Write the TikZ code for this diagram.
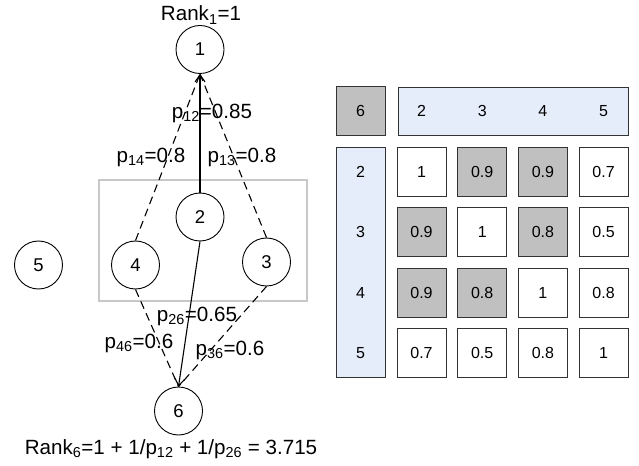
\documentclass[tikz,border=0pt]{standalone}
\usepackage{fontspec}
\setsansfont{Liberation Sans}
\usepackage{tikz}
\usetikzlibrary{arrows.meta,positioning}
\definecolor{colb}{RGB}{230,237,250}
\definecolor{colg}{RGB}{192,192,192}
\definecolor{colr}{RGB}{200,200,200}
\definecolor{cole}{RGB}{51,51,51}
\tikzstyle{page}=[draw, circle, minimum size=48bp, inner sep=0pt, line width=0.9bp, font=\sffamily\fontsize{18.5bp}{20bp}\selectfont]
\tikzstyle{lbl}=[inner sep=0pt, font=\sffamily\fontsize{20.6bp}{22bp}\selectfont]
\tikzstyle{cell}=[draw=cole, fill=white, minimum width=49bp, minimum height=49bp, inner sep=0pt, line width=0.8bp, font=\sffamily\fontsize{16bp}{17bp}\selectfont]
\tikzstyle{hicell}=[cell, fill=colg]
\tikzstyle{head}=[cell, fill=colb]
\tikzstyle{txt}=[inner sep=0pt, font=\sffamily\fontsize{16bp}{17bp}\selectfont]
\tikzstyle{solidedge}=[line width=1.1bp]
\tikzstyle{weakedge}=[line width=1.1bp, dash pattern=on 8bp off 5bp]

\begin{document}
\begin{tikzpicture}[x=1bp,y=-1bp,>={Straight Barb[length=7bp,width=10bp]}]
    \useasboundingbox (0,0) rectangle (639,466);
    % graph
    \draw [colr, line width=1.6bp] (99,180) rectangle (307,301);
    \node [page] (p1) at (200,49.5) {1};
    \node [page] (p2) at (200,217) {2};
    \node [page] (p3) at (266.5,262) {3};
    \node [page] (p4) at (135.5,265) {4};
    \node [page] (p5) at (38.5,265) {5};
    \node [page] (p6) at (178.5,411) {6};
    \path[->, solidedge]
    (p2.north) edge (p1.south)
    (p2.south) edge (p6.north);
    \path[weakedge]
    (p4.north) edge (p1.south)
    (p3.north) edge (p1.south)
    (p4.south) edge (p6.north)
    (p3.south) edge (p6.north);
    \node [lbl] (r1) at (201,15) {Rank\textsubscript{1}=1};
    \node [lbl] (l12) at (212,113) {p\textsubscript{12}=0.85};
    \node [lbl] (l14) at (151,157) {p\textsubscript{14}=0.8};
    \node [lbl] (l13) at (242,157) {p\textsubscript{13}=0.8};
    \node [lbl] (l26) at (197,316) {p\textsubscript{26}=0.65};
    \node [lbl] (l46) at (139,343) {p\textsubscript{46}=0.6};
    \node [lbl] (l36) at (230,350) {p\textsubscript{36}=0.6};
    \node [lbl] (r6) at (171,449) {Rank\textsubscript{6}=1 + 1/p\textsubscript{12} + 1/p\textsubscript{26} = 3.715};
    % matrix
    \node [hicell] (m0) at (360.5,111) {6};
    \node [head, minimum width=230bp, minimum height=48bp] (top) at (513,111) {};
    \node [head, minimum width=49bp, minimum height=230bp] (side) at (360.5,262) {};
    \node [txt] (c2) at (421.5,111) {2};
    \node [txt] (c3) at (482.2,111) {3};
    \node [txt] (c4) at (542.9,111) {4};
    \node [txt] (c5) at (603.6,111) {5};
    \node [txt] (r2) at (360.5,171.5) {2};
    \node [txt] (r3) at (360.5,232) {3};
    \node [txt] (r4) at (360.5,292.5) {4};
    \node [txt] (r5) at (360.5,353) {5};
    \node [cell] (m22) at (421.5,171.5) {1};
    \node [hicell] (m23) at (482.2,171.5) {0.9};
    \node [hicell] (m24) at (542.9,171.5) {0.9};
    \node [cell] (m25) at (603.6,171.5) {0.7};
    \node [hicell] (m32) at (421.5,232) {0.9};
    \node [cell] (m33) at (482.2,232) {1};
    \node [hicell] (m34) at (542.9,232) {0.8};
    \node [cell] (m35) at (603.6,232) {0.5};
    \node [hicell] (m42) at (421.5,292.5) {0.9};
    \node [hicell] (m43) at (482.2,292.5) {0.8};
    \node [cell] (m44) at (542.9,292.5) {1};
    \node [cell] (m45) at (603.6,292.5) {0.8};
    \node [cell] (m52) at (421.5,353) {0.7};
    \node [cell] (m53) at (482.2,353) {0.5};
    \node [cell] (m54) at (542.9,353) {0.8};
    \node [cell] (m55) at (603.6,353) {1};
\end{tikzpicture}
\end{document}
